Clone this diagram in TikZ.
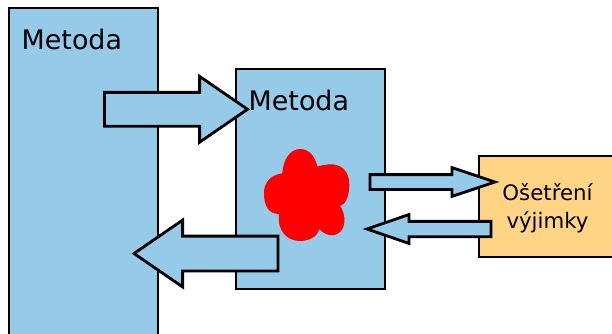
\documentclass[tikz,border=0pt]{standalone}
\usepackage{fontspec}
\setmainfont{DejaVu Sans}
\usetikzlibrary{positioning, shapes.arrows}
\definecolor{methodblue}{HTML}{95CBE8}
\definecolor{handlerorange}{HTML}{FFD485}
\tikzset{
	methodbox/.style={rectangle, draw, line width=1.8pt, fill=methodblue, outer sep=0pt, anchor=north west},
	blockarrow/.style n args={4}{single arrow, draw, line width=2.8pt, fill=methodblue, outer sep=0pt, inner sep=0pt, minimum height=#1, minimum width=#2, text width=0pt, text height=#3, text depth=0pt, single arrow head extend=#4, anchor=tail},
	methodlabel/.style={font=\fontsize{26.9}{30}\selectfont, inner sep=0pt, anchor=base west},
}
\begin{document}
\begin{tikzpicture}[x=1pt, y=-1pt]
	\useasboundingbox (0,0) rectangle (612,334);
	\clip (0,0) rectangle (612,334);
	\node (outermethod) [methodbox, minimum width=149pt, minimum height=360pt] at (9,8) {};
	\node (innermethod) [methodbox, minimum width=149pt, minimum height=220pt] at (236,69) {};
	\node (outerlabel) [methodlabel] at (21.5,49.5) {Metoda};
	\node (innerlabel) [methodlabel] at (248.5,110.5) {Metoda};
	% exception blob
	\fill[red] (317.3,166.7) .. controls (335,161) and (349,165) .. (349.3,185) .. controls (349.3,197) and (345,205) .. (340,206)
		.. controls (345,213) and (347,225) .. (340,232) .. controls (333,238) and (325,235) .. (319.3,229)
		.. controls (317,238) and (307,241) .. (300,241) .. controls (288,241) and (277,232) .. (279,214)
		.. controls (268,214) and (264,205) .. (264,193) .. controls (264,183) and (270,175) .. (282.3,173.3)
		.. controls (283,160) and (290,149) .. (300,149) .. controls (308,149) and (315,155) .. (317.3,166.7) -- cycle;
	\node (handler) [methodbox, fill=handlerorange, minimum width=150pt, minimum height=101pt] at (479,156) {};
	\node (handlerlabel) [font=\fontsize{21.3}{28}\selectfont, align=center, inner sep=0pt] at (547.5,208) {Ošetření\\výjimky};
	% arrows
	\node (callarrow) [blockarrow={143pt}{63pt}{31pt}{16pt}, single arrow tip angle=69] at (104.5,109.3) {};
	\node (returnarrow) [blockarrow={144pt}{64pt}{32pt}{16pt}, single arrow tip angle=69, shape border rotate=180] at (278,253.5) {};
	\node (raisearrow) [blockarrow={125pt}{26pt}{12pt}{7pt}, single arrow tip angle=37] at (370,182) {};
	\node (resumearrow) [blockarrow={124pt}{26pt}{12.5pt}{6.8pt}, single arrow tip angle=38, shape border rotate=180] at (491,229) {};
\end{tikzpicture}
\end{document}
